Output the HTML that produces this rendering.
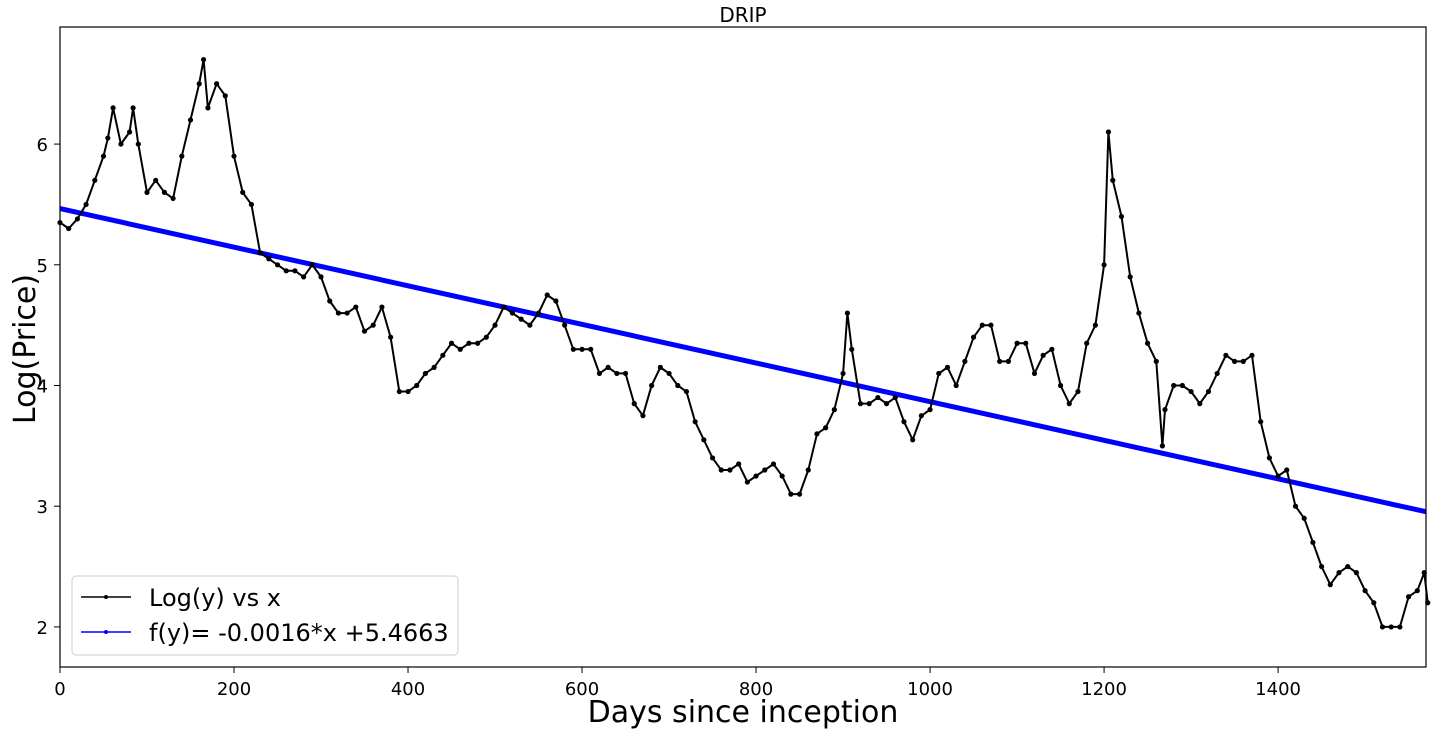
<!DOCTYPE html>
<html><head><meta charset="utf-8"><style>
body{margin:0;background:#fff;width:1432px;height:733px;overflow:hidden;font-family:"Liberation Sans","DejaVu Sans",sans-serif}
</style></head><body>
<svg id="chart" width="1432" height="733" xmlns="http://www.w3.org/2000/svg" font-family="'DejaVu Sans','Liberation Sans',sans-serif">
<text x="743" y="22" font-size="20" text-anchor="middle">DRIP</text>
<g id="plot"></g>
<rect x="60" y="27" width="1366" height="640" fill="none" stroke="#000" stroke-width="1.2"/>
<g id="axes"></g>
<text x="743" y="722" font-size="30" text-anchor="middle">Days since inception</text>
<text transform="translate(35,349) rotate(-90)" font-size="30" text-anchor="middle">Log(Price)</text>
<g>
<rect x="72" y="576" width="386" height="79" rx="4" fill="#fff" fill-opacity="0.85" stroke="#ccc"/>
<line x1="81" y1="597" x2="131" y2="597" stroke="#000" stroke-width="1.5"/><circle cx="106" cy="597" r="2" fill="#000"/>
<text x="149" y="606" font-size="24">Log(y) vs x</text>
<line x1="81" y1="632" x2="131" y2="632" stroke="#00f" stroke-width="1.5"/><circle cx="106" cy="632" r="2" fill="#00f"/>
<text x="149" y="641" font-size="24">f(y)= -0.0016*x +5.4663</text>
</g>
</svg>
<script>
const days=[0,10,20,30,40,50,55,61,70,80,84,90,100,110,120,130,140,150,160,165,170,180,190,200,210,220,230,240,250,260,270,280,290,300,310,320,330,340,350,360,370,380,390,400,410,420,430,440,450,460,470,480,490,500,510,520,530,540,550,560,570,580,590,600,610,620,630,640,650,660,670,680,690,700,710,720,730,740,750,760,770,780,790,800,810,820,830,840,850,860,870,880,890,900,905,910,920,930,940,950,960,970,980,990,1000,1010,1020,1030,1040,1050,1060,1070,1080,1090,1100,1110,1120,1130,1140,1150,1160,1170,1180,1190,1200,1205,1210,1220,1230,1240,1250,1260,1267,1270,1280,1290,1300,1310,1320,1330,1340,1350,1360,1370,1380,1390,1400,1410,1420,1430,1440,1450,1460,1470,1480,1490,1500,1510,1520,1530,1540,1550,1560,1568,1572];
const logPrice=[5.35,5.3,5.38,5.5,5.7,5.9,6.05,6.3,6.0,6.1,6.3,6.0,5.6,5.7,5.6,5.55,5.9,6.2,6.5,6.7,6.3,6.5,6.4,5.9,5.6,5.5,5.1,5.05,5.0,4.95,4.95,4.9,5.0,4.9,4.7,4.6,4.6,4.65,4.45,4.5,4.65,4.4,3.95,3.95,4.0,4.1,4.15,4.25,4.35,4.3,4.35,4.35,4.4,4.5,4.65,4.6,4.55,4.5,4.6,4.75,4.7,4.5,4.3,4.3,4.3,4.1,4.15,4.1,4.1,3.85,3.75,4.0,4.15,4.1,4.0,3.95,3.7,3.55,3.4,3.3,3.3,3.35,3.2,3.25,3.3,3.35,3.25,3.1,3.1,3.3,3.6,3.65,3.8,4.1,4.6,4.3,3.85,3.85,3.9,3.85,3.9,3.7,3.55,3.75,3.8,4.1,4.15,4.0,4.2,4.4,4.5,4.5,4.2,4.2,4.35,4.35,4.1,4.25,4.3,4.0,3.85,3.95,4.35,4.5,5.0,6.1,5.7,5.4,4.9,4.6,4.35,4.2,3.5,3.8,4.0,4.0,3.95,3.85,3.95,4.1,4.25,4.2,4.2,4.25,3.7,3.4,3.25,3.3,3.0,2.9,2.7,2.5,2.35,2.45,2.5,2.45,2.3,2.2,2.0,2.0,2.0,2.25,2.3,2.45,2.2];
const fitSlope=[-0.0016];
const fitIntercept=[5.4663];
const xTicks=[0,200,400,600,800,1000,1200,1400];
const yTicks=[2,3,4,5,6];
const NS="http://www.w3.org/2000/svg";
const X0=60,X1=1426,Y0=27,Y1=667,XMIN=0,XMAX=1570,YMIN=1.668,YMAX=6.97;
const sx=v=>X0+(v-XMIN)/(XMAX-XMIN)*(X1-X0);
const sy=v=>Y1-(v-YMIN)/(YMAX-YMIN)*(Y1-Y0);
function mk(t,a,p){const e=document.createElementNS(NS,t);for(const k in a)e.setAttribute(k,a[k]);p.appendChild(e);return e;}
const plot=document.getElementById('plot'),axes=document.getElementById('axes');
const fy=x=>fitSlope[0]*x+fitIntercept[0];
const fit=mk('line',{x1:sx(0),y1:sy(fy(0)),x2:sx(XMAX),y2:sy(fy(XMAX)),stroke:'#00f','stroke-width':5},plot);


const pts=days.map((d,i)=>sx(d).toFixed(1)+','+sy(logPrice[i]).toFixed(1)).join(' ');
const pl=mk('polyline',{points:pts,fill:'none',stroke:'#000','stroke-width':2},plot);


days.forEach((d,i)=>{const c=mk('circle',{cx:sx(d),cy:sy(logPrice[i]),r:2.6,fill:'#000'},plot);

});
xTicks.forEach(t=>{const x=sx(t);mk('line',{x1:x,y1:Y1,x2:x,y2:Y1+6,stroke:'#000'},axes);
const tx=mk('text',{x:x,y:Y1+28,'font-size':18,'text-anchor':'middle'},axes);tx.textContent=t;

});
yTicks.forEach(t=>{const y=sy(t);mk('line',{x1:X0-6,y1:y,x2:X0,y2:y,stroke:'#000'},axes);
const tx=mk('text',{x:X0-12,y:y+7,'font-size':18,'text-anchor':'end'},axes);tx.textContent=t;

});
</script>
</body></html>
